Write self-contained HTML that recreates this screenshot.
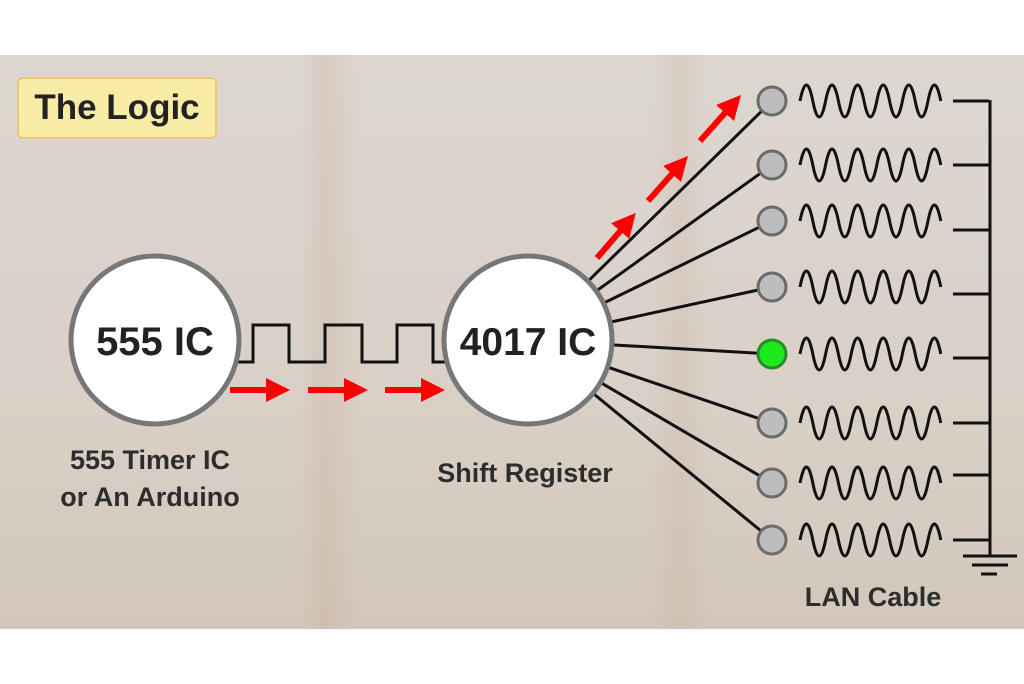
<!DOCTYPE html>
<html><head><style>
html,body{margin:0;padding:0;background:#fff;}
.wrap{position:relative;width:1024px;height:684px;overflow:hidden;background:#fff;font-family:"Liberation Sans",sans-serif;}
.wood{position:absolute;left:0;top:55px;width:1024px;height:574px;
background:
linear-gradient(90deg,rgba(0,0,0,0) 0,rgba(0,0,0,0) 300px,rgba(190,150,120,.18) 325px,rgba(0,0,0,0) 360px,rgba(0,0,0,0) 650px,rgba(190,150,120,.14) 680px,rgba(0,0,0,0) 710px),
linear-gradient(180deg,#ddd7d1 0,#d9d0c7 60%,#d3c7bb 100%);}
.title{position:absolute;left:17px;top:77px;width:196px;height:58px;background:#f7eba6;border:2px solid #f0c57a;border-radius:6px;font-weight:bold;font-size:35px;color:#222;text-align:center;line-height:58px;}
.lbl{position:absolute;font-weight:bold;color:#2d2d2d;font-size:27px;text-align:center;}
</style></head><body><div class="wrap">
<div class="wood"></div>
<div class="title">The Logic</div>
<svg style="position:absolute;left:0;top:0" width="1024" height="684" viewBox="0 0 1024 684">
<defs>
<path id="w" d="M800,0 q6.4,-32 12.8,0 q6.4,32 12.8,0 q6.4,-32 12.8,0 q6.4,32 12.8,0 q6.4,-32 12.8,0 q6.4,32 12.8,0 q6.4,-32 12.8,0 q6.4,32 12.8,0 q6.4,-32 12.8,0 q6.4,32 12.8,0 q6.4,-32 12.8,0" fill="none" stroke="#111" stroke-width="3"/>
<marker id="ah" markerWidth="4" markerHeight="4" refX="2" refY="2" orient="auto"><path d="M0,0 L4,2 L0,4 z" fill="#f00"/></marker>
</defs>
<g stroke="#111" stroke-width="3">
<line x1="528" y1="340" x2="772" y2="101"/>
<line x1="528" y1="340" x2="772" y2="165"/>
<line x1="528" y1="340" x2="772" y2="221"/>
<line x1="528" y1="340" x2="772" y2="287"/>
<line x1="528" y1="340" x2="772" y2="354"/>
<line x1="528" y1="340" x2="772" y2="423"/>
<line x1="528" y1="340" x2="772" y2="483"/>
<line x1="528" y1="340" x2="772" y2="540"/>
</g>
<path d="M238,362 H253 V325 H289 V362 H325 V325 H362 V362 H397 V325 H433 V362 H447" fill="none" stroke="#111" stroke-width="3"/>
<circle cx="155" cy="340" r="84" fill="#fff" stroke="#777" stroke-width="5"/>
<circle cx="528" cy="340" r="84" fill="#fff" stroke="#777" stroke-width="5"/>
<text x="155" y="355" font-family="Liberation Sans" font-weight="bold" font-size="40" fill="#222" text-anchor="middle">555 IC</text>
<text x="528" y="355" font-family="Liberation Sans" font-weight="bold" font-size="39" fill="#222" text-anchor="middle">4017 IC</text>
<g stroke="#f00" stroke-width="6" marker-end="url(#ah)">
<line x1="230" y1="390" x2="278" y2="390"/>
<line x1="308" y1="390" x2="356" y2="390"/>
<line x1="385" y1="390" x2="433" y2="390"/>
<line x1="597" y1="258" x2="628" y2="222"/>
<line x1="648" y1="201" x2="680" y2="165"/>
<line x1="700" y1="141" x2="733" y2="104"/>
</g>
<g stroke="#6b6b6b" stroke-width="3" fill="#bdbdbd">
<circle cx="772" cy="101" r="14"/><circle cx="772" cy="165" r="14"/><circle cx="772" cy="221" r="14"/><circle cx="772" cy="287" r="14"/>
<circle cx="772" cy="423" r="14"/><circle cx="772" cy="483" r="14"/><circle cx="772" cy="540" r="14"/>
</g>
<circle cx="772" cy="354" r="14" fill="#1ee81e" stroke="#2a8a2a" stroke-width="3"/>
<use href="#w" y="101"/><use href="#w" y="165"/><use href="#w" y="221"/><use href="#w" y="287"/>
<use href="#w" y="354"/><use href="#w" y="423"/><use href="#w" y="483"/><use href="#w" y="540"/>
<g stroke="#111" stroke-width="3">
<line x1="953" y1="101" x2="989" y2="101"/><line x1="953" y1="165" x2="989" y2="165"/>
<line x1="953" y1="230" x2="989" y2="230"/><line x1="953" y1="294" x2="989" y2="294"/>
<line x1="953" y1="358" x2="989" y2="358"/><line x1="953" y1="423" x2="989" y2="423"/>
<line x1="953" y1="475" x2="989" y2="475"/><line x1="953" y1="540" x2="989" y2="540"/>
<line x1="990" y1="100" x2="990" y2="556"/>
<line x1="963" y1="556" x2="1017" y2="556"/>
<line x1="972" y1="565" x2="1008" y2="565"/>
<line x1="981" y1="574" x2="997" y2="574"/>
</g>
</svg>
<div class="lbl" style="left:20px;top:442px;width:260px;line-height:37px;">555 Timer IC<br>or An Arduino</div>
<div class="lbl" style="left:405px;top:458px;width:240px;">Shift Register</div>
<div class="lbl" style="left:773px;top:582px;width:200px;">LAN Cable</div>
</div></body></html>
